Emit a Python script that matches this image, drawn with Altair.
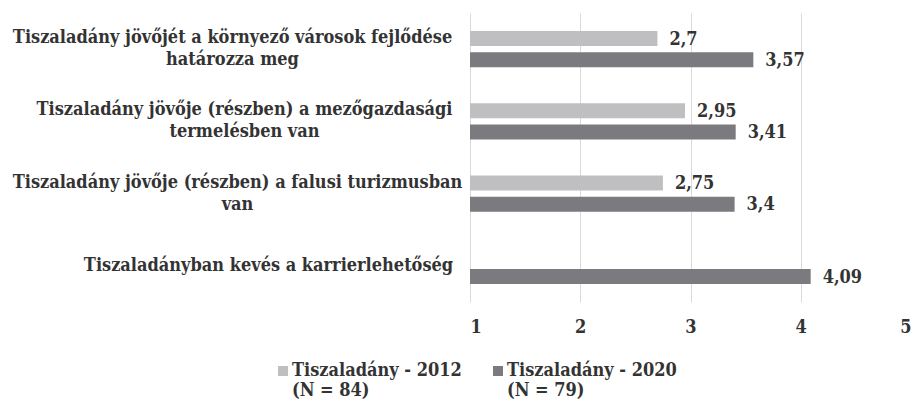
import altair as alt
import pandas as pd

categories = [
    "Tiszaladány jövőjét a környező városok fejlődése\nhatározza meg",
    "Tiszaladány jövője (részben) a mezőgazdasági\ntermelésben van",
    "Tiszaladány jövője (részben) a falusi turizmusban\nvan",
    "Tiszaladányban kevés a karrierlehetőség",
]
series = ["Tiszaladány - 2012\n(N = 84)", "Tiszaladány - 2020\n(N = 79)"]
values_2012 = [2.7, 2.95, 2.75, None]
values_2020 = [3.57, 3.41, 3.4, 4.09]
colors = ["#BFBFC1", "#7B7B7F"]
x_ticks = [1, 2, 3, 4, 5]

rows = []
for cat, v1, v2 in zip(categories, values_2012, values_2020):
    if v1 is not None:
        rows.append({"category": cat, "series": series[0], "value": v1})
    if v2 is not None:
        rows.append({"category": cat, "series": series[1], "value": v2})
df = pd.DataFrame(rows)

FONT = "DejaVu Serif Condensed, DejaVu Serif"
FS = 18
TXT = "#333333"

# label block centres differ per category (longest line right-aligned next to the plot)
label_pad = {
    "városok": 238,
    "mezőgazdasági": 226,
    "turizmusban": 233,
}
pad_conditions = [
    {"test": f"indexof(datum.value, '{k}') >= 0", "value": v} for k, v in label_pad.items()
]

y_enc = alt.Y(
    "category:N",
    sort=categories,
    scale=alt.Scale(paddingInner=0.5, paddingOuter=0.25),
    axis=alt.Axis(
        title=None,
        labelExpr="split(datum.label, '\\n')",
        labelAlign="center",
        labelBaseline={
            "condition": {"test": "indexof(datum.value, '\\n') >= 0", "value": "line-bottom"},
            "value": "middle",
        },
        labelPadding={"condition": pad_conditions, "value": 202},
        ticks=False,
        tickSize=0,
        domain=False,
        grid=False,
        labelFont=FONT,
        labelFontSize=FS,
        labelFontWeight="bold",
        labelColor=TXT,
        labelLineHeight=22,
        labelLimit=600,
    ),
)
yoff_enc = alt.YOffset("series:N", sort=series, scale=alt.Scale(paddingInner=0.3))
x_enc = alt.X(
    "value:Q",
    scale=alt.Scale(domain=[1, 5], zero=False, nice=False),
    axis=alt.Axis(
        title=None,
        values=x_ticks,
        format="d",
        grid=True,
        gridColor="#D9D9D9",
        gridWidth=1,
        domain=False,
        ticks=False,
        tickSize=0,
        labelPadding=16,
        labelFont=FONT,
        labelFontSize=FS,
        labelFontWeight="bold",
        labelColor=TXT,
    ),
)

base = alt.Chart(df)

bars = base.mark_bar().encode(
    y=y_enc,
    yOffset=yoff_enc,
    x=x_enc,
    x2=alt.datum(1),
    color=alt.Color(
        "series:N",
        sort=series,
        scale=alt.Scale(domain=series, range=colors),
        legend=alt.Legend(
            title=None,
            orient="none",
            legendX=-196,
            legendY=354,
            direction="horizontal",
            columns=2,
            columnPadding=27,
            symbolType="M-1,-2H1V0H-1Z",
            symbolSize=100,
            symbolStrokeWidth=0,
            labelExpr="split(datum.label, '\\n')",
            labelFont=FONT,
            labelFontSize=FS,
            labelFontWeight="bold",
            labelColor=TXT,
            labelBaseline="alphabetic",
            labelOffset=0,
            labelLimit=400,
        ),
    ),
)

labels = base.transform_calculate(
    label="replace(toString(datum.value), '.', ',')"
).mark_text(
    align="left",
    baseline="middle",
    dx=12,
    dy=1,
    font=FONT,
    fontSize=FS,
    fontWeight="bold",
    color=TXT,
).encode(
    y=alt.Y("category:N", sort=categories),
    yOffset=alt.YOffset("series:N", sort=series),
    x=alt.X("value:Q"),
    text="label:N",
)

chart = (
    alt.layer(bars, labels)
    .properties(
        width=441,
        height=289,
        autosize=alt.AutoSizeParams(type="none"),
        padding={"left": 462, "top": 5, "right": 0, "bottom": 100},
        background="white",
    )
    .configure_view(stroke=None)
)

chart.save("out.html", embed_options={"renderer": "svg", "actions": False})
